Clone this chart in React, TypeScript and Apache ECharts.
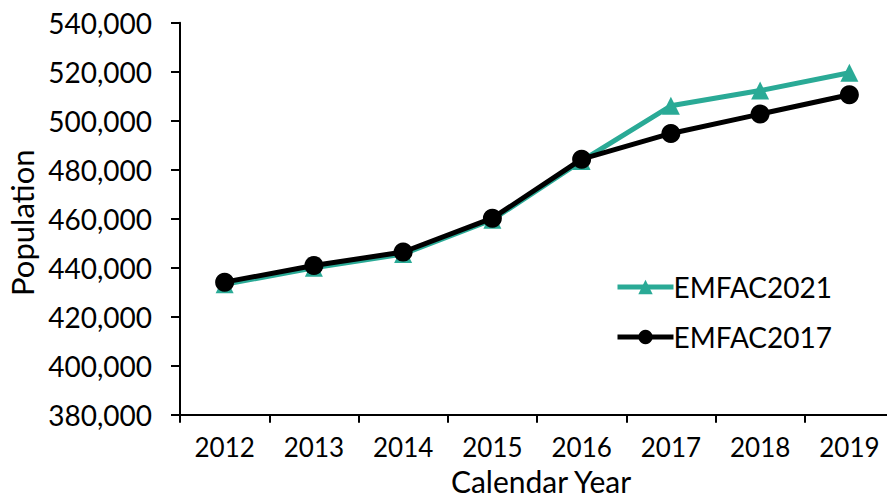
import React, { useEffect, useRef } from "react";
import * as echarts from "echarts";

const years = ["2012", "2013", "2014", "2015", "2016", "2017", "2018", "2019"];
const emfac2021 = [433200, 440000, 445600, 459600, 483600, 506100, 512300, 519600];
const emfac2017 = [434100, 440900, 446400, 460200, 484300, 494800, 502700, 510600];
const yMin = 380000;
const yMax = 540000;
const yStep = 20000;

const TEAL = "#2AAA96";
const FONT = "Lato";

export default function App() {
  const ref = useRef<HTMLDivElement>(null);
  useEffect(() => {
    if (!ref.current) return;
    const chart = echarts.init(ref.current, undefined, { renderer: "svg" });
    chart.setOption({
      animation: false,
      backgroundColor: "#ffffff",
      textStyle: { fontFamily: FONT, color: "#000" },
      grid: {
        left: 180,
        top: 22.7,
        width: 714,
        height: 392,
        containLabel: false,
        outerBoundsMode: "none",
      },
      legend: {
        orient: "vertical",
        left: 610,
        top: 268,
        itemWidth: 56,
        itemHeight: 18,
        itemGap: 22,
        lineStyle: { width: 5 },
        textStyle: { fontSize: 28, fontFamily: FONT, color: "#000", lineHeight: 28, padding: [0, 0, 0, -5] },
        data: ["EMFAC2021", "EMFAC2017"],
      },
      xAxis: {
        type: "category",
        data: years,
        boundaryGap: true,
        name: "Calendar Year",
        nameLocation: "middle",
        nameGap: 51,
        nameTextStyle: { fontSize: 30, lineHeight: 30, fontFamily: FONT, color: "#000", padding: [0, 0, 0, 8] },
        axisLine: { lineStyle: { color: "#000", width: 2 } },
        axisTick: { show: true, length: 8, lineStyle: { color: "#000", width: 2 }, alignWithLabel: false },
        axisLabel: { fontSize: 26, fontFamily: FONT, color: "#000", margin: 19 },
        splitLine: { show: false },
      },
      yAxis: {
        type: "value",
        min: yMin,
        max: yMax,
        interval: yStep,
        name: "Population",
        nameLocation: "middle",
        nameGap: 143,
        nameRotate: 90,
        nameTextStyle: { fontSize: 31, lineHeight: 31, fontFamily: FONT, color: "#000", padding: [0, 8, 0, 0] },
        axisLine: { show: true, lineStyle: { color: "#000", width: 2 } },
        axisTick: { show: true, length: 9, lineStyle: { color: "#000", width: 2 } },
        axisLabel: {
          fontSize: 28,
          fontFamily: FONT,
          color: "#000",
          margin: 28,
          formatter: (v: number) => v.toLocaleString("en-US"),
        },
        splitLine: { show: false },
      },
      series: [
        {
          name: "EMFAC2021",
          type: "line",
          data: emfac2021,
          symbol: "triangle",
          symbolSize: 18,
          lineStyle: { color: TEAL, width: 5 },
          itemStyle: { color: TEAL },
          z: 2,
        },
        {
          name: "EMFAC2017",
          type: "line",
          data: emfac2017,
          symbol: "circle",
          symbolSize: 19,
          lineStyle: { color: "#000", width: 5 },
          itemStyle: { color: "#000" },
          z: 3,
        },
      ],
    });
    return () => chart.dispose();
  }, []);
  return (
    <div
      ref={ref}
      style={{ position: "fixed", left: 0, top: 0, width: 887, height: 501, background: "#fff" }}
    />
  );
}
